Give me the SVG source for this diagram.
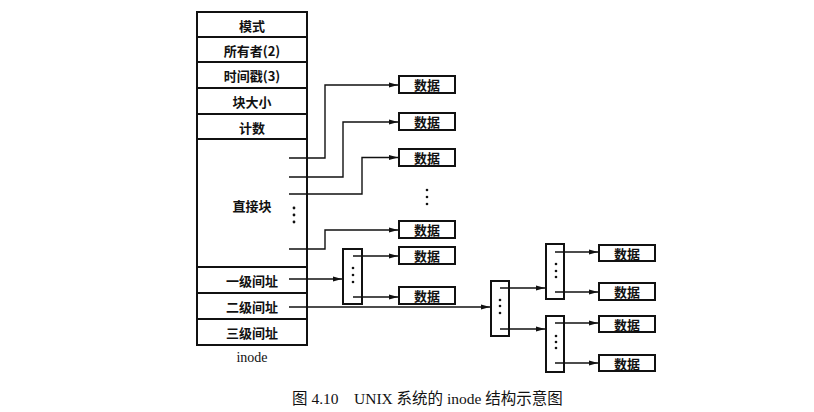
<svg xmlns="http://www.w3.org/2000/svg" width="814" height="412" viewBox="0 0 814 412">
<defs>
<marker id="ah" markerUnits="userSpaceOnUse" markerWidth="10" markerHeight="6" refX="9" refY="3" orient="auto">
<path d="M0,0.5 L9,3 L0,5.5 Z" fill="#111"/>
</marker>
</defs>
<style>
.box{fill:#fff;stroke:#111;stroke-width:2}
.sep{stroke:#111;stroke-width:2}
.t{font-family:"Noto Sans CJK SC","Liberation Sans",sans-serif;font-size:13px;font-weight:700;fill:#111;text-anchor:middle;dominant-baseline:central}
.c{stroke:#111;stroke-width:1.4;fill:none}
.a{stroke:#111;stroke-width:1.4;fill:none;marker-end:url(#ah)}
.dot{fill:#111}
.cap{font-family:"Liberation Serif","Noto Sans CJK SC",serif;font-size:15.5px;fill:#111}
</style>
<rect width="814" height="412" fill="#fff"/>
<g id="inode">
<rect class="box" x="197" y="12" width="110" height="333"/>
<line class="sep" x1="197" y1="37" x2="307" y2="37"/>
<line class="sep" x1="197" y1="62" x2="307" y2="62"/>
<line class="sep" x1="197" y1="88" x2="307" y2="88"/>
<line class="sep" x1="197" y1="114" x2="307" y2="114"/>
<line class="sep" x1="197" y1="139" x2="307" y2="139"/>
<line class="sep" x1="197" y1="267" x2="307" y2="267"/>
<line class="sep" x1="197" y1="293" x2="307" y2="293"/>
<line class="sep" x1="197" y1="319" x2="307" y2="319"/>
<text class="t" x="252" y="25">模式</text>
<text class="t" x="252" y="50">所有者(2)</text>
<text class="t" x="252" y="75">时间戳(3)</text>
<text class="t" x="252" y="101">块大小</text>
<text class="t" x="252" y="127">计数</text>
<text class="t" x="252" y="205">直接块</text>
<text class="t" x="252" y="280">一级间址</text>
<text class="t" x="252" y="306">二级间址</text>
<text class="t" x="252" y="332">三级间址</text>
<circle class="dot" cx="294" cy="208" r="1.4"/>
<circle class="dot" cx="294" cy="215" r="1.4"/>
<circle class="dot" cx="294" cy="222" r="1.4"/>
<text x="252" y="362" font-family="Liberation Serif,serif" font-size="14" fill="#111" text-anchor="middle">inode</text>
</g>
<g id="d1"><rect class="box" x="399" y="76" width="56" height="17"/><text class="t" x="427" y="84.5">数据</text></g>
<g id="d2"><rect class="box" x="399" y="113" width="56" height="17"/><text class="t" x="427" y="121.5">数据</text></g>
<g id="d3"><rect class="box" x="399" y="149" width="56" height="17"/><text class="t" x="427" y="157.5">数据</text></g>
<g id="ddots">
<circle class="dot" cx="427" cy="190" r="1.3"/>
<circle class="dot" cx="427" cy="197" r="1.3"/>
<circle class="dot" cx="427" cy="204" r="1.3"/>
</g>
<g id="d4"><rect class="box" x="399" y="221" width="56" height="17"/><text class="t" x="427" y="229.5">数据</text></g>
<g id="d5"><rect class="box" x="399" y="247" width="56" height="17"/><text class="t" x="427" y="255.5">数据</text></g>
<g id="d6"><rect class="box" x="399" y="287" width="56" height="17"/><text class="t" x="427" y="295.5">数据</text></g>
<g id="idx1">
<rect class="box" x="343" y="249" width="19" height="55"/>
<circle class="dot" cx="353" cy="268" r="1.3"/>
<circle class="dot" cx="353" cy="275" r="1.3"/>
<circle class="dot" cx="353" cy="282" r="1.3"/>
</g>
<g id="idx2">
<rect class="box" x="491" y="281" width="18" height="55"/>
<circle class="dot" cx="500" cy="300" r="1.3"/>
<circle class="dot" cx="500" cy="306" r="1.3"/>
<circle class="dot" cx="500" cy="313" r="1.3"/>
</g>
<g id="idx2a">
<rect class="box" x="546" y="244" width="18" height="55"/>
<circle class="dot" cx="556" cy="264" r="1.3"/>
<circle class="dot" cx="556" cy="271" r="1.3"/>
<circle class="dot" cx="556" cy="277" r="1.3"/>
</g>
<g id="idx2b">
<rect class="box" x="546" y="316" width="18" height="56"/>
<circle class="dot" cx="556" cy="336" r="1.3"/>
<circle class="dot" cx="556" cy="342" r="1.3"/>
<circle class="dot" cx="556" cy="348" r="1.3"/>
</g>
<g id="d7"><rect class="box" x="599" y="245" width="56" height="16"/><text class="t" x="627" y="253">数据</text></g>
<g id="d8"><rect class="box" x="599" y="283" width="56" height="17"/><text class="t" x="627" y="291.5">数据</text></g>
<g id="d9"><rect class="box" x="599" y="316" width="56" height="16"/><text class="t" x="627" y="324">数据</text></g>
<g id="d10"><rect class="box" x="599" y="355" width="56" height="16"/><text class="t" x="627" y="363">数据</text></g>
<g id="connectors">
<path class="a" d="M289,158 H325 V85 H398"/>
<path class="a" d="M289,177 H343 V122 H398"/>
<path class="a" d="M289,194 H362 V157.5 H398"/>
<path class="a" d="M289,249 H325 V230 H398"/>
<path class="a" d="M289,279 H342"/>
<path class="a" d="M353,256 H398"/>
<path class="a" d="M353,297 H398"/>
<path class="a" d="M289,307 H490"/>
<path class="a" d="M500,288 H545"/>
<path class="a" d="M500,329 H545"/>
<path class="a" d="M555,252 H598"/>
<path class="a" d="M555,292 H598"/>
<path class="a" d="M555,323 H598"/>
<path class="a" d="M555,363 H598"/>
</g>
<g id="caption">
<text class="cap" x="292" y="404">图 4.10</text>
<text class="cap" x="354" y="404">UNIX 系统的 inode 结构示意图</text>
</g>
</svg>
